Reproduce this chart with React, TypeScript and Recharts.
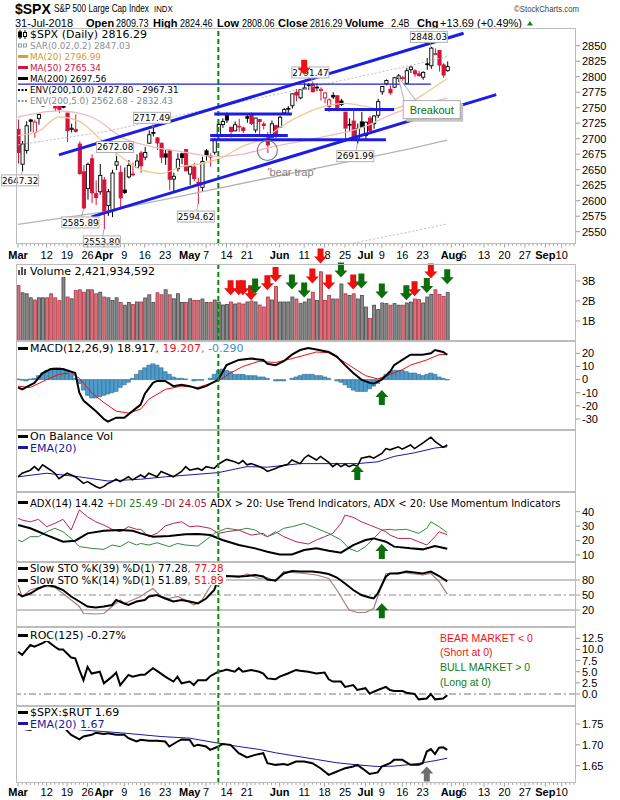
import React from 'react';
import { ComposedChart, Bar, Line, XAxis, YAxis, ReferenceLine, ReferenceDot } from 'recharts';

// ---------- daily $SPX, 1 Mar - 31 Jul 2018 (index 0 = Mar 1) ----------
const opens = [
  2715.2, 2658.9, 2681.1, 2730.2, 2710.2, 2732.8, 2752.9, 2790.5, 2792.3, 2774.1,
  2754.3, 2750.6, 2741.4, 2715.1, 2715.0, 2691.4, 2646.7, 2619.4, 2667.6, 2611.3,
  2614.4, 2633.5, 2592.2, 2584.0, 2657.4, 2645.8, 2617.2, 2638.4, 2643.0, 2653.8,
  2676.9, 2670.1, 2692.7, 2710.1, 2701.2, 2692.6, 2675.4, 2680.8, 2634.9, 2651.7,
  2675.5, 2682.5, 2643.0, 2654.2, 2628.1, 2621.5, 2680.3, 2670.3, 2678.1, 2705.0,
  2722.7, 2738.3, 2718.6, 2712.6, 2719.7, 2717.4, 2735.4, 2738.3, 2714.0, 2730.9,
  2723.6, 2705.1, 2702.4, 2721.0, 2718.7, 2741.7, 2748.5, 2753.2, 2774.8, 2765.8,
  2780.2, 2785.6, 2787.9, 2783.2, 2777.8, 2765.8, 2752.0, 2769.7, 2769.3, 2760.8,
  2742.9, 2722.1, 2728.5, 2698.7, 2727.1, 2705.0, 2733.3, 2724.2, 2737.7, 2775.6,
  2788.6, 2779.8, 2783.1, 2796.9, 2797.4, 2789.3, 2811.4, 2809.4, 2804.6, 2799.2,
  2820.7, 2817.7, 2835.5, 2842.4, 2819.0, 2809.7,
];
const highs = [
  2730.9, 2696.3, 2728.1, 2732.1, 2730.6, 2740.5, 2786.6, 2797.0, 2801.9, 2777.1,
  2763.0, 2761.9, 2741.4, 2724.2, 2739.1, 2695.7, 2657.7, 2661.4, 2674.8, 2632.7,
  2659.1, 2638.3, 2619.1, 2649.9, 2672.1, 2656.9, 2653.6, 2665.5, 2661.4, 2674.7,
  2680.3, 2686.5, 2713.3, 2717.5, 2702.8, 2693.9, 2682.9, 2683.6, 2645.3, 2676.5,
  2677.4, 2682.9, 2655.3, 2660.9, 2637.1, 2670.9, 2683.4, 2676.3, 2701.3, 2726.1,
  2732.9, 2742.1, 2718.6, 2727.8, 2732.0, 2719.5, 2739.2, 2742.2, 2733.3, 2732.0,
  2727.4, 2710.7, 2729.3, 2722.5, 2736.9, 2749.2, 2752.6, 2772.4, 2779.9, 2779.4,
  2790.2, 2789.8, 2791.5, 2789.1, 2782.8, 2775.0, 2765.1, 2774.9, 2769.3, 2764.2,
  2742.9, 2732.9, 2746.1, 2724.3, 2743.3, 2727.3, 2736.6, 2737.8, 2764.4, 2784.7,
  2795.6, 2785.9, 2799.2, 2804.5, 2801.2, 2814.2, 2816.8, 2812.1, 2809.7, 2808.6,
  2830.0, 2848.0, 2845.6, 2843.2, 2821.7, 2824.5,
];
const lows = [
  2659.7, 2647.3, 2675.8, 2711.3, 2701.7, 2722.7, 2751.5, 2779.3, 2758.7, 2744.4,
  2741.5, 2749.0, 2694.6, 2710.1, 2709.8, 2641.6, 2585.9, 2601.8, 2596.1, 2593.1,
  2609.7, 2553.8, 2575.5, 2573.6, 2649.6, 2586.3, 2610.8, 2635.8, 2639.3, 2653.8,
  2645.1, 2665.2, 2692.1, 2703.6, 2681.9, 2660.6, 2657.9, 2617.3, 2612.7, 2647.2,
  2659.0, 2648.0, 2625.4, 2631.7, 2594.6, 2615.3, 2664.7, 2655.2, 2674.1, 2704.5,
  2717.5, 2725.5, 2701.9, 2712.2, 2711.4, 2709.2, 2725.7, 2721.9, 2709.5, 2707.4,
  2715.0, 2676.8, 2702.4, 2700.7, 2718.7, 2740.5, 2739.5, 2748.5, 2760.2, 2763.6,
  2780.2, 2778.8, 2774.7, 2776.5, 2761.7, 2757.1, 2743.2, 2763.9, 2744.4, 2752.7,
  2698.7, 2711.3, 2699.4, 2692.0, 2718.0, 2699.0, 2711.2, 2716.0, 2733.5, 2770.7,
  2786.2, 2770.8, 2781.5, 2791.7, 2793.4, 2789.2, 2805.9, 2799.8, 2800.0, 2795.1,
  2811.1, 2812.7, 2835.3, 2808.3, 2798.1, 2808.1,
];
const closes = [
  2677.7, 2691.3, 2720.9, 2728.1, 2726.8, 2739.0, 2786.6, 2783.0, 2765.3, 2749.5,
  2747.3, 2752.0, 2712.9, 2716.9, 2711.9, 2643.7, 2588.3, 2658.6, 2612.6, 2605.0,
  2640.9, 2581.9, 2614.5, 2644.7, 2662.8, 2604.5, 2613.2, 2656.9, 2642.2, 2664.0,
  2656.3, 2677.8, 2706.4, 2708.6, 2693.1, 2670.1, 2670.3, 2634.6, 2639.4, 2666.9,
  2669.9, 2648.1, 2654.8, 2635.7, 2629.7, 2663.4, 2672.6, 2671.9, 2697.8, 2723.1,
  2727.7, 2730.1, 2711.5, 2722.5, 2720.1, 2713.0, 2733.0, 2724.4, 2733.3, 2727.8,
  2721.3, 2689.9, 2724.0, 2705.3, 2734.6, 2746.9, 2748.8, 2772.4, 2770.4, 2779.0,
  2782.0, 2786.9, 2775.6, 2782.5, 2779.7, 2773.8, 2762.6, 2767.3, 2749.8, 2754.9,
  2717.1, 2723.1, 2699.6, 2716.3, 2718.4, 2726.7, 2713.2, 2736.6, 2759.8, 2784.2,
  2793.8, 2774.0, 2798.3, 2801.3, 2798.4, 2809.6, 2815.6, 2804.5, 2801.8, 2807.0,
  2820.4, 2846.1, 2837.4, 2818.8, 2802.6, 2816.3,
];
const prevClose = 2713.83; // 28 Feb close, colours the first bar

// volume, billions of shares
const volumes = [
  2.77, 2.41, 2.36, 2.16, 2.05, 2.16, 2.16, 2.16, 2.36, 2.16,
  2.02, 3.21, 2.20, 2.11, 2.52, 2.56, 2.44, 2.56, 2.56, 2.36,
  2.44, 2.20, 2.16, 2.03, 2.16, 1.93, 1.79, 1.93, 1.82, 1.95,
  1.95, 2.15, 2.31, 1.93, 2.41, 2.31, 2.56, 2.31, 2.11, 2.36,
  1.93, 1.93, 2.11, 2.03, 2.03, 2.10, 1.93, 1.93, 2.05, 1.95,
  1.80, 1.83, 1.95, 1.85, 1.90, 1.85, 1.95, 2.00, 1.95, 1.80,
  1.70, 2.20, 2.05, 2.72, 1.95, 1.95, 1.95, 2.20, 2.10, 1.87,
  1.95, 2.10, 2.44, 2.03, 3.46, 2.03, 2.28, 2.10, 2.10, 2.85,
  2.36, 2.28, 2.36, 2.10, 2.28, 1.70, 1.13, 1.79, 1.57, 1.90,
  1.87, 1.79, 1.87, 1.79, 1.79, 1.90, 1.95, 2.10, 2.07, 1.90,
  2.20, 2.33, 2.56, 2.33, 2.23, 2.42,
];

type Pt = [number, number];

// price overlays, [day index, value]
const ma20: Pt[] = [[0, 2705], [5, 2712], [10, 2735], [15, 2728], [20, 2700], [25, 2672], [30, 2650], [35, 2644], [40, 2655], [45, 2660], [50, 2670], [55, 2688], [60, 2700], [65, 2722], [70, 2740], [75, 2752], [80, 2757], [85, 2752], [90, 2746], [95, 2755], [100, 2775], [105, 2797]];
const ma50: Pt[] = [[0, 2735], [10, 2745], [18, 2735], [26, 2700], [33, 2687], [40, 2679], [49, 2671], [55, 2675], [61, 2685], [70, 2697], [77, 2706], [85, 2720], [90, 2735], [95, 2748], [100, 2757], [105, 2765.3]];
const ma200: Pt[] = [[0, 2562], [21, 2582], [44, 2613], [60, 2635], [80, 2662], [96, 2684], [105, 2697.6]];
const envUp: Pt[] = [[0, 2690], [21, 2711], [44, 2744], [60, 2767], [80, 2795], [96, 2818], [105, 2832.4]];
const envDn: Pt[] = [[60, 2503], [80, 2529], [96, 2550], [105, 2562.7]];

// MACD(12,26,9)
const macdLine: Pt[] = [[0, -6], [1, -7.5], [4, -2.5], [6, 5], [8, 8], [11, 8], [14, 5], [15, -10], [16, -16], [19, -24], [21, -30], [22, -32], [24, -29], [26, -29], [28, -24], [30, -19], [31, -11], [33, -2.5], [34, -1], [36, -1], [38, -5], [40, -4], [42, -5], [44, -7], [46, -5], [49, 0], [51, 11], [54, 15], [57, 16], [60, 15], [61, 12], [63, 11], [65, 14], [67, 19], [69, 22.5], [71, 24], [73, 23], [76, 21], [78, 17.5], [80, 11], [82, 5], [84, 0], [86, -2.5], [87, -3], [89, 0], [91, 6], [92, 11], [94, 15], [96, 19], [99, 19], [101, 20], [102, 22.5], [104, 21], [105, 18.9]];
const macdSignal: Pt[] = [[0, -5], [3, -6], [7, 0], [10, 4], [13, 5], [15, 1], [18, -10], [21, -17.5], [24, -24], [27, -25.5], [30, -22.5], [32, -15], [36, -7.5], [40, -5], [44, -6], [49, -1], [52, 5], [55, 10], [59, 14], [63, 13], [67, 16], [73, 21], [76, 20.5], [79, 15], [82, 9], [85, 3], [88, 0.5], [91, 4], [94, 7.5], [96, 11], [100, 15], [103, 19], [105, 19.2]];
const macdHist = [
  0.5, -0.5, -1, 0.5, 1, 3, 5, 7, 8, 9,
  9, 8, 7, 4, 1, -3, -8, -12, -14, -14,
  -13, -12, -11, -10, -9, -6, -4, -2, 1, 4,
  7, 9, 11, 12, 11, 9, 6, 4, 2, 1,
  1, 0.5, 0, -1, -0.5, -0.5, 0, 1, 4, 7,
  8, 7, 6, 4, 4, 4, 3, 3, 3, 2,
  2, 1, 0, -1, -1, -1, 0, 1, 2, 3,
  4, 4, 4, 3, 3, 2, 1, 0, -1, -2,
  -4, -6, -8, -9, -9, -9, -7, -5, -3, 1,
  4, 6, 7, 7, 7, 6, 5, 5, 4, 3,
  4, 5, 4, 2, 1, -0.3,
];

// On Balance Volume (relative units, no scale shown)
const obv: Pt[] = [[0, 22], [1, 28], [3, 33], [4, 39], [5, 33], [6, 42], [8, 33], [9, 28], [10, 19], [12, 28], [13, 25], [14, 22], [15, 17], [16, 11], [17, 14], [19, 6], [20, 3], [21, 6], [22, 11], [23, 14], [24, 18], [25, 14], [27, 22], [28, 17], [30, 25], [31, 21], [32, 28], [34, 22], [35, 31], [37, 25], [38, 22], [40, 31], [41, 39], [42, 33], [44, 36], [45, 33], [46, 39], [48, 36], [49, 43], [50, 47], [51, 51], [53, 47], [54, 44], [55, 49], [56, 42], [57, 44], [59, 39], [60, 36], [61, 31], [63, 36], [64, 39], [66, 43], [67, 50], [69, 44], [70, 53], [71, 58], [73, 50], [74, 56], [76, 46], [77, 39], [78, 44], [79, 39], [80, 43], [81, 39], [82, 42], [83, 40], [84, 53], [86, 56], [87, 53], [89, 61], [90, 69], [91, 67], [93, 72], [94, 68], [96, 75], [97, 69], [99, 78], [100, 83], [101, 88], [102, 81], [104, 71], [105, 75]];
const obvEma: Pt[] = [[0, 22], [7, 28], [15, 22], [22, 15], [30, 18], [36, 22], [49, 29], [56, 39], [61, 38], [69, 44], [78, 44], [83, 44], [88, 47], [92, 56], [97, 62], [102, 70], [105, 72]];

// ADX(14)
const adx: Pt[] = [[0, 30.8], [3, 28.5], [7, 23.8], [11, 19.2], [14, 19.9], [17, 25], [21, 26.8], [25, 27.3], [28, 26.8], [30, 25], [33, 22.7], [37, 23.2], [41, 24.3], [44, 24.5], [47, 23.8], [50, 20.4], [54, 16.9], [58, 14.6], [61, 12.3], [64, 10.4], [67, 10.4], [70, 13.4], [73, 14.6], [76, 12.9], [79, 11.6], [82, 16.9], [85, 20.4], [87, 21.5], [90, 19.2], [92, 15.8], [96, 14.6], [99, 13.9], [102, 16.2], [105, 14.4]];
const plusDI: Pt[] = [[0, 20.4], [1, 19.2], [3, 22.7], [5, 22.7], [7, 26.1], [9, 28.5], [11, 26.1], [13, 21.5], [15, 15.8], [18, 14.6], [21, 13.9], [23, 16.9], [25, 15.8], [27, 19.2], [29, 16.9], [30, 18], [32, 16.9], [34, 18.5], [37, 15.8], [39, 18], [41, 16.9], [44, 16.2], [46, 20.4], [48, 25], [51, 28.5], [54, 27.3], [56, 28.5], [58, 27.3], [60, 23.8], [61, 22.7], [63, 25], [65, 28.5], [67, 29.6], [70, 31.9], [73, 28.5], [76, 25], [79, 20.4], [81, 14.6], [83, 12.3], [85, 15.8], [87, 21.5], [89, 27.3], [91, 27.8], [92, 27.3], [95, 27.8], [98, 25], [100, 28.5], [101, 33], [103, 29.6], [105, 25.5]];
const minusDI: Pt[] = [[0, 35.4], [1, 34.2], [3, 33], [5, 34.7], [7, 29.6], [9, 31.9], [11, 34.7], [13, 27.3], [15, 41.2], [17, 36.5], [19, 33], [21, 30.8], [23, 27.8], [25, 26.1], [27, 29.6], [29, 27.8], [30, 27.8], [32, 22.7], [34, 25], [36, 30.1], [38, 31.9], [40, 33], [42, 29.6], [44, 30.1], [47, 28.5], [49, 25], [51, 26.1], [54, 27.3], [57, 23.8], [60, 25], [61, 22.7], [63, 26.1], [65, 22.7], [68, 19.2], [71, 17.6], [73, 20.4], [75, 22.7], [77, 25], [79, 31.9], [80, 37.7], [82, 36.1], [84, 33], [86, 30.8], [88, 28.5], [90, 26.1], [91, 23.8], [93, 21.5], [96, 21.5], [98, 19.2], [100, 16.9], [102, 22.7], [103, 26.1], [105, 24.05]];

// Slow stochastics
const stoK39: Pt[] = [[0, 53], [1, 47], [3, 53], [5, 63], [7, 70], [9, 67], [11, 60], [13, 47], [15, 37], [17, 27], [19, 25], [21, 27], [23, 30], [24, 40], [26, 33], [27, 30], [29, 37], [31, 40], [32, 47], [34, 50], [36, 43], [38, 37], [40, 40], [42, 37], [44, 33], [46, 43], [48, 60], [49, 83], [51, 88], [54, 87], [56, 88], [58, 90], [60, 87], [61, 81], [63, 79], [65, 93], [67, 98], [69, 97], [72, 97], [74, 95], [76, 92], [78, 85], [80, 73], [82, 60], [84, 50], [86, 45], [87, 43], [88, 53], [90, 87], [91, 93], [93, 93], [95, 97], [97, 95], [99, 93], [101, 97], [103, 88], [105, 77.3]];
const stoK14: Pt[] = [[0, 70], [1, 47], [3, 60], [5, 65], [7, 67], [9, 65], [11, 53], [13, 40], [15, 27], [16, 13], [19, 12], [21, 13], [23, 27], [25, 40], [26, 33], [28, 40], [30, 47], [31, 53], [33, 63], [35, 47], [37, 43], [39, 47], [41, 40], [43, 30], [45, 40], [47, 67], [49, 90], [51, 88], [54, 85], [56, 92], [59, 83], [61, 85], [63, 77], [65, 97], [67, 95], [70, 93], [73, 90], [76, 83], [78, 60], [80, 33], [81, 20], [83, 15], [85, 15], [87, 23], [88, 47], [90, 93], [91, 93], [94, 95], [97, 92], [99, 90], [101, 93], [103, 77], [105, 51.9]];

// ROC(125), %
const roc: Pt[] = [[0, 9.5], [1, 8.8], [2, 9.9], [3, 11], [4, 10.6], [6, 11.4], [7, 12], [9, 10.6], [10, 10], [11, 10], [13, 8.2], [14, 8], [15, 5.4], [16, 3.1], [17, 6.1], [18, 4.6], [20, 5], [21, 2.4], [23, 3.9], [24, 4.8], [25, 2], [27, 4.3], [28, 3.9], [30, 4.3], [31, 4.3], [33, 5.8], [34, 5.2], [36, 3.9], [38, 2.8], [39, 3.9], [40, 2.4], [42, 2.8], [43, 2], [44, 3.1], [46, 3.1], [47, 4], [49, 5], [50, 5.2], [51, 5.5], [53, 5], [54, 5.8], [55, 5], [57, 5.4], [59, 5], [60, 4.6], [61, 3.5], [63, 3.3], [64, 3.9], [66, 4.6], [68, 5.4], [69, 5.2], [71, 5], [73, 4.6], [75, 4.8], [76, 3.3], [77, 2.8], [79, 2.8], [80, 1.6], [82, 2], [83, 0.9], [85, 1.3], [86, 0.1], [88, 0.9], [90, 1.6], [91, 0.9], [92, 0.7], [94, 0.7], [95, 0.3], [97, 0], [98, -1.2], [100, -1], [101, 0], [102, -1.2], [104, -1], [105, -0.27]];

// $SPX:$RUT ratio
const ratio: Pt[] = [[0, 1.74], [3, 1.736], [5, 1.745], [7, 1.742], [9, 1.74], [11, 1.744], [13, 1.724], [15, 1.713], [16, 1.72], [18, 1.724], [19, 1.729], [21, 1.726], [22, 1.728], [24, 1.724], [26, 1.724], [27, 1.716], [29, 1.708], [30, 1.712], [32, 1.71], [34, 1.71], [36, 1.708], [37, 1.696], [39, 1.708], [40, 1.713], [42, 1.712], [43, 1.697], [44, 1.7], [46, 1.696], [47, 1.688], [49, 1.696], [50, 1.702], [52, 1.7], [54, 1.68], [56, 1.67], [58, 1.676], [60, 1.68], [61, 1.656], [63, 1.652], [65, 1.654], [66, 1.652], [68, 1.66], [70, 1.66], [72, 1.656], [74, 1.644], [76, 1.628], [77, 1.632], [79, 1.64], [80, 1.644], [82, 1.648], [83, 1.652], [85, 1.638], [86, 1.63], [88, 1.634], [89, 1.648], [91, 1.656], [92, 1.664], [94, 1.664], [96, 1.652], [98, 1.652], [99, 1.656], [100, 1.684], [101, 1.69], [102, 1.678], [103, 1.693], [104, 1.694], [105, 1.688]];
const ratioEma: Pt[] = [[0, 1.748], [10, 1.74], [18, 1.734], [25, 1.729], [35, 1.72], [42, 1.716], [49, 1.704], [54, 1.696], [59, 1.689], [63, 1.681], [68, 1.673], [73, 1.665], [78, 1.657], [83, 1.652], [88, 1.648], [92, 1.649], [97, 1.654], [102, 1.662], [105, 1.668]];

// date axis: [day index, label]
const dateLabels: [number, string][] = [[0, 'Mar'], [7, '12'], [12, '19'], [17, '26'], [21, 'Apr'], [26, '9'], [31, '16'], [36, '23'], [42, 'May'], [46, '7'], [51, '14'], [56, '21'], [64, 'Jun'], [70, '11'], [75, '18'], [80, '25'], [85, 'Jul'], [89, '9'], [94, '16'], [99, '23'], [106, 'Aug'], [109, '6'], [114, '13'], [119, '20'], [124, '27'], [129, 'Sep'], [133, '10']];

// chart annotations (data coordinates)
const markerDay = 49; // 10 May
const priceTags: Pt[] = [[1, 2647.32], [16, 2585.89], [21, 2553.8], [24, 2672.08], [33, 2717.49], [44, 2594.62], [72, 2791.47], [83, 2691.99], [101, 2848.03]];
const channels: [number, number, number, number][] = [[10, 2674, 109, 2870], [18, 2574, 117, 2771]];
const levels: [number, number, number][] = [[48, 67, 2740], [47, 66, 2705], [47, 90, 2698.4], [75, 92, 2747]];
const priorHigh: [number, number, number] = [0, 101, 2788];
const volRed: Pt[] = [[52, 2.29], [54, 2.29], [55, 2.29], [57, 2.04], [61, 2.54], [63, 2.95], [72, 2.87], [74, 3.87], [76, 2.57], [82, 2.57], [97, 2.24], [101, 3.12]];
const volGreen: Pt[] = [[58, 2.37], [67, 2.57], [70, 2.17], [79, 3.17], [84, 2.62], [89, 2.12], [95, 2.04], [100, 2.4], [105, 2.84]];

// ---------- layout / styles ----------
const W = 620;
const LEFT = 16;
const AXW = 44;
const N = 137;
const SANS = "'Liberation Sans', Arial, Helvetica, sans-serif";
const VERD = "'DejaVu Sans', Verdana, sans-serif";
const RED = '#d4143a';
const BLUE = '#1c1ce6';
const DKGREEN = '#0b6e0b';
const NAVY = '#1a1a9c';
const tagOffsets: Pt[] = [[-2, 9], [-3, 13], [-2, 12], [-1, -9], [-1, -10], [-2, 12.5], [-2, -9.5], [-2, 12.5], [-2, -10]];

const days = Array.from({ length: N }, (_, i) => i);
const pick = (pts: Pt[]) => {
  const m = new Map<number, number>(pts);
  return (i: number) => (m.has(i) ? (m.get(i) as number) : null);
};
const isDown = (i: number) => closes[i] < (i === 0 ? prevClose : closes[i - 1]);
const has = (i: number) => i < closes.length;

const g = {
  ma20: pick(ma20), ma50: pick(ma50), ma200: pick(ma200), envUp: pick(envUp), envDn: pick(envDn),
  macd: pick(macdLine), sig: pick(macdSignal), obv: pick(obv), obvEma: pick(obvEma),
  adx: pick(adx), pdi: pick(plusDI), mdi: pick(minusDI), k39: pick(stoK39), k14: pick(stoK14),
  roc: pick(roc), ratio: pick(ratio), ratioEma: pick(ratioEma),
};

const priceRows = days.map((i) => ({
  i,
  hl: has(i) ? [lows[i], highs[i]] : null,
  o: opens[i], h: highs[i], l: lows[i], c: closes[i],
  down: has(i) && isDown(i),
  ma20: g.ma20(i), ma50: g.ma50(i), ma200: g.ma200(i), envUp: g.envUp(i), envDn: g.envDn(i),
}));
const volRows = days.map((i) => ({ i, vol: has(i) ? volumes[i] : null, down: has(i) && isDown(i) }));
const macdRows = days.map((i) => ({ i, hist: has(i) ? macdHist[i] : null, macd: g.macd(i), sig: g.sig(i) }));
const obvRows = days.map((i) => ({ i, obv: g.obv(i), ema: g.obvEma(i) }));
const adxRows = days.map((i) => ({ i, adx: g.adx(i), pdi: g.pdi(i), mdi: g.mdi(i) }));
const stoRows = days.map((i) => ({ i, k39: g.k39(i), k14: g.k14(i) }));
const rocRows = days.map((i) => ({ i, roc: g.roc(i) }));
const ratioRows = days.map((i) => ({ i, ratio: g.ratio(i), ema: g.ratioEma(i) }));
const axisRows = days.map((i) => ({ i }));
const labelMap = new Map(dateLabels);
const months = new Set(['Mar', 'Apr', 'May', 'Jun', 'Jul', 'Aug', 'Sep']);

// ---------- shapes ----------
const Candle = (p: any) => {
  const d = p.payload;
  if (!d || d.c == null || !p.height) return null;
  const top = Math.min(p.y, p.y + p.height);
  const hgt = Math.abs(p.height);
  const k = hgt / (d.h - d.l);
  const yOf = (v: number) => top + (d.h - v) * k;
  const cx = p.x + p.width / 2;
  const col = d.down ? RED : '#000';
  const bt = yOf(Math.max(d.o, d.c));
  const bb = yOf(Math.min(d.o, d.c));
  return (
    <g>
      <line x1={cx} x2={cx} y1={top} y2={top + hgt} stroke={col} strokeWidth={1} />
      <rect x={cx - 1.6} y={bt} width={3.2} height={Math.max(bb - bt, 0.8)} fill={d.c > d.o ? '#fff' : col} stroke={col} strokeWidth={0.9} />
    </g>
  );
};

const VolBar = (p: any) => {
  if (!p.payload || p.payload.vol == null) return null;
  const dn = p.payload.down;
  return <rect x={p.x} y={p.y} width={p.width} height={p.height} fill={dn ? '#d9707c' : '#8a8a8a'} stroke={dn ? '#b03444' : '#474747'} strokeWidth={0.8} />;
};

const arrow = (color: string, dir: 1 | -1) => (p: any) => {
  const pts = [[0, 0], [-6.5, 7], [-3, 7], [-3, 15], [3, 15], [3, 7], [6.5, 7]]
    .map(([dx, dy]) => `${p.cx + dx},${p.cy - dir * dy}`)
    .join(' ');
  return <polygon points={pts} fill={color} />;
};
const downArrow = (c: string) => arrow(c, 1);
const upArrow = (c: string) => arrow(c, -1);

const tag = (text: string, dx: number, dy: number) => (p: any) => {
  const bx = p.cx + dx;
  const by = p.cy + dy;
  return (
    <g>
      <line x1={p.cx} y1={p.cy} x2={bx} y2={by} stroke="#999" strokeWidth={0.8} />
      <rect x={bx - 18.5} y={by - 5.5} width={37} height={11} fill="#fff" stroke="#b0b0b0" strokeWidth={1} />
      <text x={bx} y={by + 3.3} textAnchor="middle" fontSize={8.8} fontFamily={VERD} fill="#000">{text}</text>
    </g>
  );
};

const breakout = (p: any) => {
  const x = p.cx;
  const y = p.cy;
  return (
    <g>
      <rect x={x + 8} y={y + 27} width={57} height={18} fill="#c4c4c4" />
      <polygon points={`${x},${y} ${x + 6},${y + 24.5} ${x + 18},${y + 24.5}`} fill="#fff" stroke="#999" strokeWidth={0.8} />
      <rect x={x + 5} y={y + 24} width={57} height={18} fill="#fff" stroke="#999" strokeWidth={0.8} />
      <text x={x + 33.5} y={y + 37} textAnchor="middle" fontSize={11} fontFamily={SANS} fill="#0a700a">Breakout</text>
    </g>
  );
};

const bearTrap = (p: any) => (
  <text x={p.cx} y={p.cy} fontSize={11} fontFamily={SANS} fill="#808080">'bear trap'</text>
);

const makeDateTick = (base: number) => (p: any) => {
  const v = p.payload.value as number;
  const lab = labelMap.get(v);
  return (
    <g>
      <line x1={p.x} x2={p.x} y1={0} y2={lab ? 3.5 : 1.8} stroke="#a0a0a0" strokeWidth={1} />
      {lab && (
        <text x={p.x} y={base} textAnchor="middle" fontSize={11} fontFamily={SANS} fontWeight={months.has(lab) ? 700 : 400} fill="#000">
          {lab}
        </text>
      )}
    </g>
  );
};

// ---------- helpers ----------
const hiddenX = <XAxis dataKey="i" type="category" scale="band" hide />;

function yAxis(domain: [number, number], ticks: number[] | null, fmt?: (v: number) => string) {
  return (
    <YAxis
      orientation="right"
      width={AXW}
      type="number"
      domain={domain}
      allowDataOverflow
      ticks={ticks ?? []}
      interval={0}
      tick={ticks ? { fontSize: 11, fill: '#000', fontFamily: SANS } : false}
      tickFormatter={fmt}
      tickLine={ticks ? { stroke: '#999' } : false}
      tickSize={4}
      axisLine={false}
    />
  );
}

const marker = (
  <ReferenceLine x={markerDay} stroke="#0a8a0a" strokeWidth={2} strokeDasharray="5 3" ifOverflow="visible" />
);

const M = { top: 0, right: 0, bottom: 0, left: LEFT };
const line = (key: string, color: string, width = 1, extra: any = {}) => (
  <Line dataKey={key} stroke={color} strokeWidth={width} dot={false} activeDot={false} connectNulls isAnimationActive={false} {...extra} />
);

type Seg = [string, string];
function Row({ y, segs, sw, size = 11, lh = 11 }: { y: number; segs: Seg[]; sw?: React.ReactNode; size?: number; lh?: number }) {
  return (
    <div
      style={{
        position: 'absolute', left: 17, top: y - lh / 2, height: lh, lineHeight: `${lh}px`, fontSize: size,
        fontFamily: VERD, background: '#fff', whiteSpace: 'nowrap', paddingRight: 2,
      }}
    >
      {sw}
      {segs.map(([t, c], k) => (
        <span key={k} style={{ color: c }}>{t}</span>
      ))}
    </div>
  );
}

function Swatch({ kind, c }: { kind: string; c: string }) {
  return (
    <svg width={12} height={9} style={{ verticalAlign: 'middle', marginRight: 1, marginTop: -2 }}>
      {kind === 'line' && <rect x={1} y={3} width={10} height={3} fill={c} />}
      {kind === 'dots' && [2, 5.5, 9].map((x) => <rect key={x} x={x - 1} y={4} width={2} height={2} fill={c} />)}
      {kind === 'sar' && [3, 8].map((x) => <rect key={x} x={x - 1.5} y={3} width={3} height={3} fill="none" stroke={c} strokeWidth={0.9} />)}
      {kind === 'candle' && (
        <g stroke="#000" strokeWidth={1}>
          <line x1={3} x2={3} y1={0} y2={9} />
          <rect x={1.5} y={2} width={3} height={5} fill="#000" />
          <line x1={8} x2={8} y1={0} y2={9} />
          <rect x={6.5} y={2.5} width={3} height={4} fill="#fff" />
        </g>
      )}
      {kind === 'vol' && (
        <g fill="#555">
          <rect x={1} y={4} width={2} height={5} />
          <rect x={4} y={1} width={2} height={8} />
          <rect x={7} y={3} width={2} height={6} />
        </g>
      )}
    </svg>
  );
}

// condensed header text (no narrow face installed, so squeeze Arial horizontally)
function Cond({ x, y, size, children, fill = '#000', anchor = 'start' }: any) {
  return (
    <text transform={`translate(${x},${y}) scale(0.82,1)`} fontSize={size} fontFamily={SANS} fill={fill} textAnchor={anchor}>
      {children}
    </text>
  );
}

function AxisRow({ top, height, base, withMarker }: { top: number; height: number; base: number; withMarker: boolean }) {
  return (
    <div style={{ position: 'absolute', left: 0, top }}>
      <ComposedChart width={W} height={height} data={axisRows} margin={{ top: 0, right: AXW, bottom: 0, left: LEFT }}>
        <XAxis dataKey="i" type="category" scale="band" orientation="top" height={1} interval={0} tick={makeDateTick(base)} tickLine={false} axisLine={false} />
        <YAxis hide domain={[0, 1]} />
        {withMarker && marker}
      </ComposedChart>
    </div>
  );
}

const frames: [number, number][] = [[28, 244], [264, 341], [341, 430], [430, 492], [492, 562], [562, 627], [627, 706], [706, 783]];

export default function App() {
  return (
    <div style={{ position: 'absolute', left: 0, top: 0, width: W, height: 800, background: '#fff', overflow: 'hidden', fontFamily: SANS }}>
      <style>{'.recharts-surface{overflow:visible}'}</style>

      {/* header */}
      <svg width={W} height={28} style={{ position: 'absolute', left: 0, top: 0 }}>
        <text x={15} y={13.5} fontSize={14} fontWeight={700} fontFamily={SANS}>$SPX</text>
        <Cond x={54} y={12} size={10}>S&amp;P 500 Large Cap Index</Cond>
        <Cond x={154} y={12} size={9.5}>INDX</Cond>
        <Cond x={579} y={11.5} size={9.5} fill="#444" anchor="end">©StockCharts.com</Cond>
        <g fontFamily={SANS} fontSize={11}>
          <text x={15} y={26.5}>31-Jul-2018</text>
          <text x={86} y={26.5} fontWeight={700}>Open</text>
          <text x={153} y={26.5} fontWeight={700}>High</text>
          <text x={217} y={26.5} fontWeight={700}>Low</text>
          <text x={278} y={26.5} fontWeight={700}>Close</text>
          <text x={345} y={26.5} fontWeight={700}>Volume</text>
          <text x={417} y={26.5} fontWeight={700}>Chg</text>
          <text x={440} y={26.5}>+13.69 (+0.49%)</text>
        </g>
        <Cond x={116} y={26.5} size={11}>2809.73</Cond>
        <Cond x={180} y={26.5} size={11}>2824.46</Cond>
        <Cond x={242} y={26.5} size={11}>2808.06</Cond>
        <Cond x={310} y={26.5} size={11}>2816.29</Cond>
        <Cond x={391} y={26.5} size={11}>2.4B</Cond>
        <polygon points="527,25.5 533,25.5 530,21" fill="#0a8a0a" />
      </svg>

      {/* price panel: candles and averages */}
      <div style={{ position: 'absolute', left: 0, top: 28 }}>
        <ComposedChart width={W} height={216} data={priceRows} margin={M}>
          {hiddenX}
          {yAxis([2530.2, 2878.5], [2550, 2575, 2600, 2625, 2650, 2675, 2700, 2725, 2750, 2775, 2800, 2825, 2850])}
          {line('ma200', '#b4b4b4', 1.3)}
          {line('envUp', '#bdbdbd', 1, { strokeDasharray: '2 2' })}
          {line('envDn', '#bdbdbd', 1, { strokeDasharray: '2 2' })}
          {line('ma50', '#f2b8bf', 1.3, { type: 'monotone' })}
          {line('ma20', '#efc994', 1.3, { type: 'monotone' })}
          <Bar dataKey="hl" shape={Candle} barSize={3} isAnimationActive={false} />
          {marker}
        </ComposedChart>
      </div>

      {/* price legend */}
      <Row y={35} size={11} lh={12} sw={<Swatch kind="candle" c="#000" />} segs={[['$SPX (Daily) 2816.29', '#000']]} />
      <Row y={46.3} size={8.8} lh={10.5} sw={<Swatch kind="sar" c="#8a9098" />} segs={[['SAR(0.02,0.2) 2847.03', '#8a9098']]} />
      <Row y={57.3} size={8.8} lh={10.5} sw={<Swatch kind="line" c="#dc9f22" />} segs={[['MA(20) 2796.99', '#d49a1c']]} />
      <Row y={68.6} size={8.8} lh={10.5} sw={<Swatch kind="line" c="#d21440" />} segs={[['MA(50) 2765.34', '#d21440']]} />
      <Row y={79.6} size={8.8} lh={10.5} sw={<Swatch kind="line" c="#000" />} segs={[['MA(200) 2697.56', '#000']]} />
      <Row y={90.6} size={8.8} lh={10.5} sw={<Swatch kind="dots" c="#000" />} segs={[['ENV(200,10.0) 2427.80 - 2967.31', '#000']]} />
      <Row y={101.1} size={8.8} lh={10.5} sw={<Swatch kind="dots" c="#8a939c" />} segs={[['ENV(200,5.0) 2562.68 - 2832.43', '#7f8a94']]} />

      {/* price panel: drawn annotations */}
      <div style={{ position: 'absolute', left: 0, top: 28 }}>
        <ComposedChart width={W} height={216} data={priceRows} margin={M}>
          {hiddenX}
          {yAxis([2530.2, 2878.5], null)}
          <ReferenceLine segment={[{ x: priorHigh[0], y: priorHigh[2] }, { x: priorHigh[1], y: priorHigh[2] }]} stroke={BLUE} strokeWidth={1.4} ifOverflow="visible" />
          {channels.map(([x1, y1, x2, y2], k) => (
            <ReferenceLine key={`c${k}`} segment={[{ x: x1, y: y1 }, { x: x2, y: y2 }]} stroke={BLUE} strokeWidth={3} ifOverflow="visible" />
          ))}
          {levels.map(([x1, x2, y], k) => (
            <ReferenceLine key={`l${k}`} segment={[{ x: x1, y }, { x: x2, y }]} stroke={BLUE} strokeWidth={3} ifOverflow="visible" />
          ))}
          <ReferenceDot x={61} y={2681} r={10} fill="none" stroke="#808080" strokeWidth={1.2} ifOverflow="visible" />
          <ReferenceDot x={61} y={2640} ifOverflow="visible" shape={bearTrap} />
          {priceTags.map(([x, y], k) => (
            <ReferenceDot key={`t${k}`} x={x} y={y} ifOverflow="visible" shape={tag(y.toFixed(2), tagOffsets[k][0], tagOffsets[k][1])} />
          ))}
          <ReferenceDot x={70} y={2803} ifOverflow="visible" shape={downArrow('#ee1111')} />
          <ReferenceDot x={93} y={2800} ifOverflow="visible" shape={breakout} />
        </ComposedChart>
      </div>

      <AxisRow top={244} height={20} base={15} withMarker />

      {/* volume */}
      <div style={{ position: 'absolute', left: 0, top: 264 }}>
        <ComposedChart width={W} height={77} data={volRows} margin={M}>
          {hiddenX}
          {yAxis([0, 3.85], [1, 2, 3], (v) => `${v}B`)}
          <Bar dataKey="vol" shape={VolBar} barSize={3} isAnimationActive={false} />
          {marker}
          {volRed.map(([x, y], k) => (
            <ReferenceDot key={`r${k}`} x={x} y={y} ifOverflow="visible" shape={downArrow('#ee0f0f')} />
          ))}
          {volGreen.map(([x, y], k) => (
            <ReferenceDot key={`g${k}`} x={x} y={y} ifOverflow="visible" shape={downArrow(DKGREEN)} />
          ))}
        </ComposedChart>
      </div>
      <Row y={271} sw={<Swatch kind="vol" c="#555" />} segs={[['Volume 2,421,934,592', '#000']]} />

      {/* MACD */}
      <div style={{ position: 'absolute', left: 0, top: 341 }}>
        <ComposedChart width={W} height={89} data={macdRows} margin={M} barCategoryGap={0}>
          {hiddenX}
          {yAxis([-38.4, 29.4], [-30, -20, -10, 0, 10, 20])}
          <Bar dataKey="hist" fill="#4f9bc9" stroke="#2a6d97" strokeWidth={0.6} isAnimationActive={false} />
          {line('sig', '#ee1111', 1)}
          {line('macd', '#000', 2)}
          {marker}
          <ReferenceDot x={89} y={-7.9} ifOverflow="visible" shape={upArrow(DKGREEN)} />
        </ComposedChart>
      </div>
      <Row y={348.5} sw={<Swatch kind="line" c="#000" />} segs={[['MACD(12,26,9) 18.917', '#000'], [', 19.207', '#ee1111'], [', -0.290', '#3d8fc4']]} />

      {/* OBV */}
      <div style={{ position: 'absolute', left: 0, top: 430 }}>
        <ComposedChart width={W} height={62} data={obvRows} margin={M}>
          {hiddenX}
          {yAxis([-3.3, 100], null)}
          {line('ema', NAVY, 1)}
          {line('obv', '#000', 1.6)}
          {marker}
          <ReferenceDot x={83} y={41.7} ifOverflow="visible" shape={upArrow(DKGREEN)} />
        </ComposedChart>
      </div>
      <Row y={437.7} lh={10.5} sw={<Swatch kind="line" c="#000" />} segs={[['On Balance Vol', '#000']]} />
      <Row y={449} lh={10.5} sw={<Swatch kind="line" c={NAVY} />} segs={[['EMA(20)', NAVY]]} />

      {/* ADX */}
      <div style={{ position: 'absolute', left: 0, top: 492 }}>
        <ComposedChart width={W} height={70} data={adxRows} margin={M}>
          {hiddenX}
          {yAxis([5.15, 53.65], [10, 20, 30, 40])}
          {line('mdi', '#b8234f', 1)}
          {line('pdi', '#2e8b3e', 1)}
          {line('adx', '#000', 2)}
          {marker}
          <ReferenceDot x={89} y={17.6} ifOverflow="visible" shape={upArrow(DKGREEN)} />
        </ComposedChart>
      </div>
      <Row y={503.3} size={10} sw={<Swatch kind="line" c="#000" />} segs={[['ADX(14) 14.42 ', '#000'], ['+DI 25.49 ', '#1f7a2c'], ['-DI 24.05 ', '#b0173f'], ['ADX > 20: Use Trend Indicators, ADX < 20: Use Momentum Indicators', '#000']]} />

      {/* Slow stochastics */}
      <div style={{ position: 'absolute', left: 0, top: 562 }}>
        <ComposedChart width={W} height={65} data={stoRows} margin={M}>
          {hiddenX}
          {yAxis([-14, 116], [20, 50, 80])}
          <ReferenceLine y={80} stroke="#8c8c8c" strokeWidth={1} />
          <ReferenceLine y={20} stroke="#8c8c8c" strokeWidth={1} />
          <ReferenceLine y={50} stroke="#8c8c8c" strokeWidth={1} strokeDasharray="7 3 2 3" />
          {line('k14', '#a67c7c', 1.2)}
          {line('k39', '#000', 2)}
          {marker}
          <ReferenceDot x={89} y={33.4} ifOverflow="visible" shape={upArrow(DKGREEN)} />
        </ComposedChart>
      </div>
      <Row y={568.3} size={10.3} lh={10} sw={<Swatch kind="line" c="#000" />} segs={[['Slow STO %K(39) %D(1) 77.28', '#000'], [', 77.28', '#ee1111']]} />
      <Row y={580.2} size={10.3} lh={10} sw={<Swatch kind="line" c="#000" />} segs={[['Slow STO %K(14) %D(1) 51.89', '#000'], [', 51.89', '#ee1111']]} />

      {/* ROC */}
      <div style={{ position: 'absolute', left: 0, top: 627 }}>
        <ComposedChart width={W} height={79} data={rocRows} margin={M}>
          {hiddenX}
          {yAxis([-2.69, 15.04], [0, 2.5, 5, 7.5, 10, 12.5], (v) => v.toFixed(1))}
          <ReferenceLine y={0} stroke="#777" strokeWidth={1} strokeDasharray="7 3 2 3" />
          {line('roc', '#000', 2)}
          {marker}
        </ComposedChart>
      </div>
      <Row y={635.5} sw={<Swatch kind="line" c="#000" />} segs={[['ROC(125) -0.27%', '#000']]} />
      <div style={{ position: 'absolute', left: 440, top: 631, fontSize: 10.5, lineHeight: '14.2px', fontFamily: SANS }}>
        <div style={{ color: '#f01414' }}>BEAR MARKET &lt; 0</div>
        <div style={{ color: '#f01414' }}>(Short at 0)</div>
        <div style={{ color: '#117a11', marginTop: 1 }}>BULL MARKET &gt; 0</div>
        <div style={{ color: '#117a11' }}>(Long at 0)</div>
      </div>

      {/* $SPX:$RUT */}
      <div style={{ position: 'absolute', left: 0, top: 706 }}>
        <ComposedChart width={W} height={77} data={ratioRows} margin={M}>
          {hiddenX}
          {yAxis([1.6085, 1.7932], [1.65, 1.7, 1.75], (v) => v.toFixed(2))}
          {line('ema', NAVY, 1)}
          {line('ratio', '#000', 2)}
          {marker}
          <ReferenceDot x={100} y={1.648} ifOverflow="visible" shape={upArrow('#6e6e6e')} />
        </ComposedChart>
      </div>
      <Row y={713.5} lh={10.5} sw={<Swatch kind="line" c="#000" />} segs={[['$SPX:$RUT 1.69', '#000']]} />
      <Row y={725} lh={10.5} sw={<Swatch kind="line" c={NAVY} />} segs={[['EMA(20) 1.67', NAVY]]} />

      <AxisRow top={783} height={17} base={12.5} withMarker={false} />

      {/* panel frames */}
      {frames.map(([t, b], k) => (
        <div key={k} style={{ position: 'absolute', left: LEFT, top: t, width: 560, height: b - t, border: '1px solid #bcbcbc', boxSizing: 'border-box', pointerEvents: 'none' }} />
      ))}
    </div>
  );
}
